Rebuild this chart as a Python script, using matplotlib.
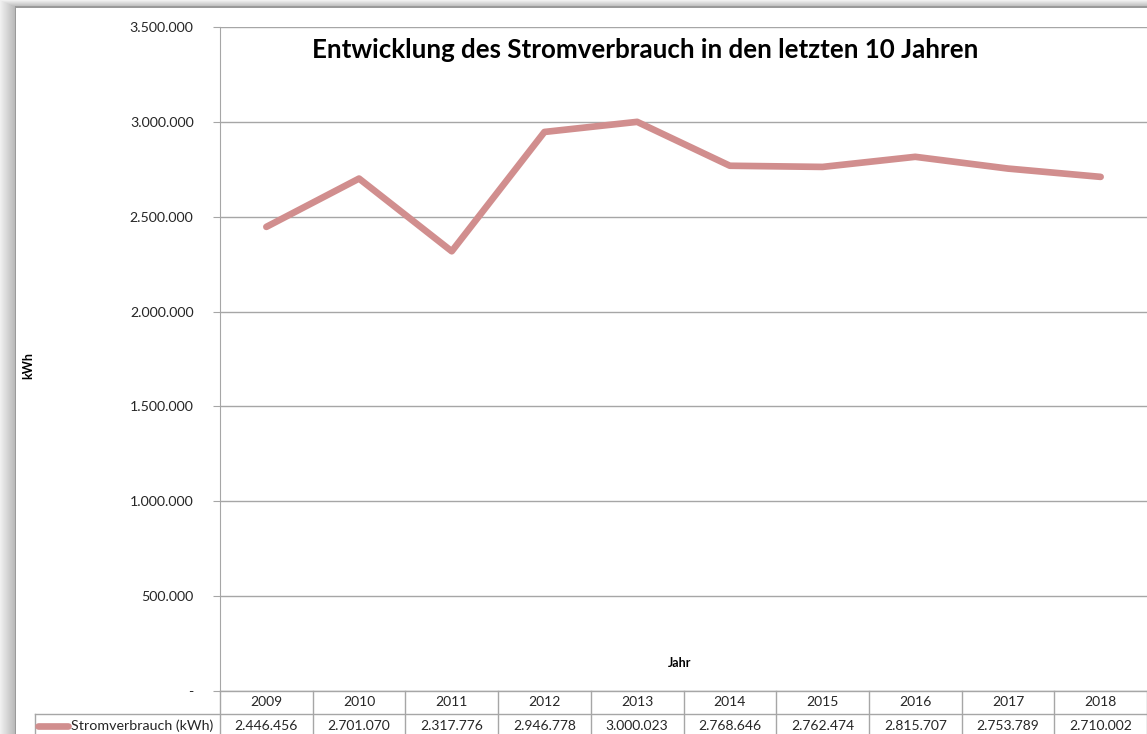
import numpy as np
from matplotlib import pyplot as plt
from matplotlib.patches import Rectangle
from matplotlib import transforms

plt.rcParams['font.family'] = ['Lato', 'DejaVu Sans']

years = ['2009', '2010', '2011', '2012', '2013', '2014', '2015', '2016', '2017', '2018']
verbrauch = [2446456, 2701070, 2317776, 2946778, 3000023, 2768646, 2762474, 2815707, 2753789, 2710002]
tickValues = [0, 500000, 1000000, 1500000, 2000000, 2500000, 3000000, 3500000]
seriesName = 'Stromverbrauch (kWh)'
lineColor = '#d18e8e'
gridColor = '#a6a6a6'

W, H = 1147, 734


def fmt(v):
    if v == 0:
        return '-'
    return f'{v:,}'.replace(',', '.')


fig = plt.figure(figsize=(W / 100, H / 100), dpi=100)
fig.patch.set_facecolor('white')

# drop shadow of the excel chart frame (left and top)
for i in range(16):
    g = 0.94 - 0.015 * i
    fig.patches.append(Rectangle((i / W, 0), 1 / W, 1, transform=fig.transFigure,
                                 facecolor=(g, g, g), edgecolor='none'))
for i in range(7):
    g = 0.94 - 0.035 * i
    fig.patches.append(Rectangle((16 / W * (i / 7), 1 - (i + 1) / H), 1, 1 / H,
                                 transform=fig.transFigure, facecolor=(g, g, g), edgecolor='none'))
fig.patches.append(Rectangle((15 / W, 0), 1.5 / W, 1 - 6 / H, transform=fig.transFigure,
                             facecolor='#9a9a9a', edgecolor='none'))
fig.patches.append(Rectangle((15 / W, 1 - 7.5 / H), 1, 1.5 / H, transform=fig.transFigure,
                             facecolor='#9a9a9a', edgecolor='none'))

left, right, top, bottom = 220, 1147, 27, 691
ax = fig.add_axes([left / W, 1 - bottom / H, (right - left) / W, (bottom - top) / H])
ax.set_facecolor('none')

x = np.arange(len(years))
ax.plot(x, verbrauch, color=lineColor, linewidth=4.8, solid_capstyle='round',
        solid_joinstyle='round', zorder=3)

ax.set_xlim(-0.5, len(years) - 0.5)
ax.set_ylim(0, 3500000)
ax.set_yticks(tickValues)
ax.set_yticklabels([fmt(v) for v in tickValues], fontsize=10.2, color='#262626')
ax.tick_params(axis='y', length=5, color=gridColor, pad=14)
ax.set_xticks([])
ax.grid(axis='y', color=gridColor, linewidth=1)
ax.set_axisbelow(True)
for side in ['top', 'right', 'bottom']:
    ax.spines[side].set_visible(False)
ax.spines['left'].set_color(gridColor)

# data table below the plot
trans = transforms.blended_transform_factory(ax.transData, ax.transAxes)
ph = bottom - top
row1 = -(714 - bottom) / ph
row2 = -(740 - bottom) / ph
for i in range(len(years) + 1):
    ax.plot([i - 0.5, i - 0.5], [0, row2], transform=trans, color=gridColor,
            linewidth=1, clip_on=False)
ax.plot([-0.5, len(years) - 0.5], [0, 0], transform=trans, color=gridColor, linewidth=1, clip_on=False)
fig.add_artist(plt.Line2D([35 / W, 1], [1 - 714 / H, 1 - 714 / H], color=gridColor, linewidth=1))
fig.add_artist(plt.Line2D([35 / W, 35 / W], [1 - 714 / H, 0], color=gridColor, linewidth=1))
for i, (yr, v) in enumerate(zip(years, verbrauch)):
    ax.text(i, -(702 - bottom) / ph, yr, transform=trans, ha='center', va='center',
            fontsize=10, color='#262626')
    ax.text(i, -(726 - bottom) / ph, fmt(v), transform=trans, ha='center', va='center',
            fontsize=10, color='#262626')
fig.add_artist(plt.Line2D([38 / W, 68 / W], [1 - 726 / H, 1 - 726 / H], color=lineColor,
                          linewidth=4.8, solid_capstyle='round'))
fig.text(71 / W, 1 - 726 / H, seriesName, ha='left', va='center', fontsize=10.3, color='#262626')

fig.text(645 / W, 1 - 50 / H, 'Entwicklung des Stromverbrauch in den letzten 10 Jahren',
         ha='center', va='center', fontsize=18.6, fontweight='bold', color='black')
fig.text(680 / W, 1 - 663 / H, 'Jahr', ha='center', va='center', fontsize=9,
         fontweight='bold', color='black')
fig.text(28 / W, 1 - 365 / H, 'kWh', ha='center', va='center', rotation=90, fontsize=9,
         fontweight='bold', color='black')

plt.savefig('out.png', dpi=100)
